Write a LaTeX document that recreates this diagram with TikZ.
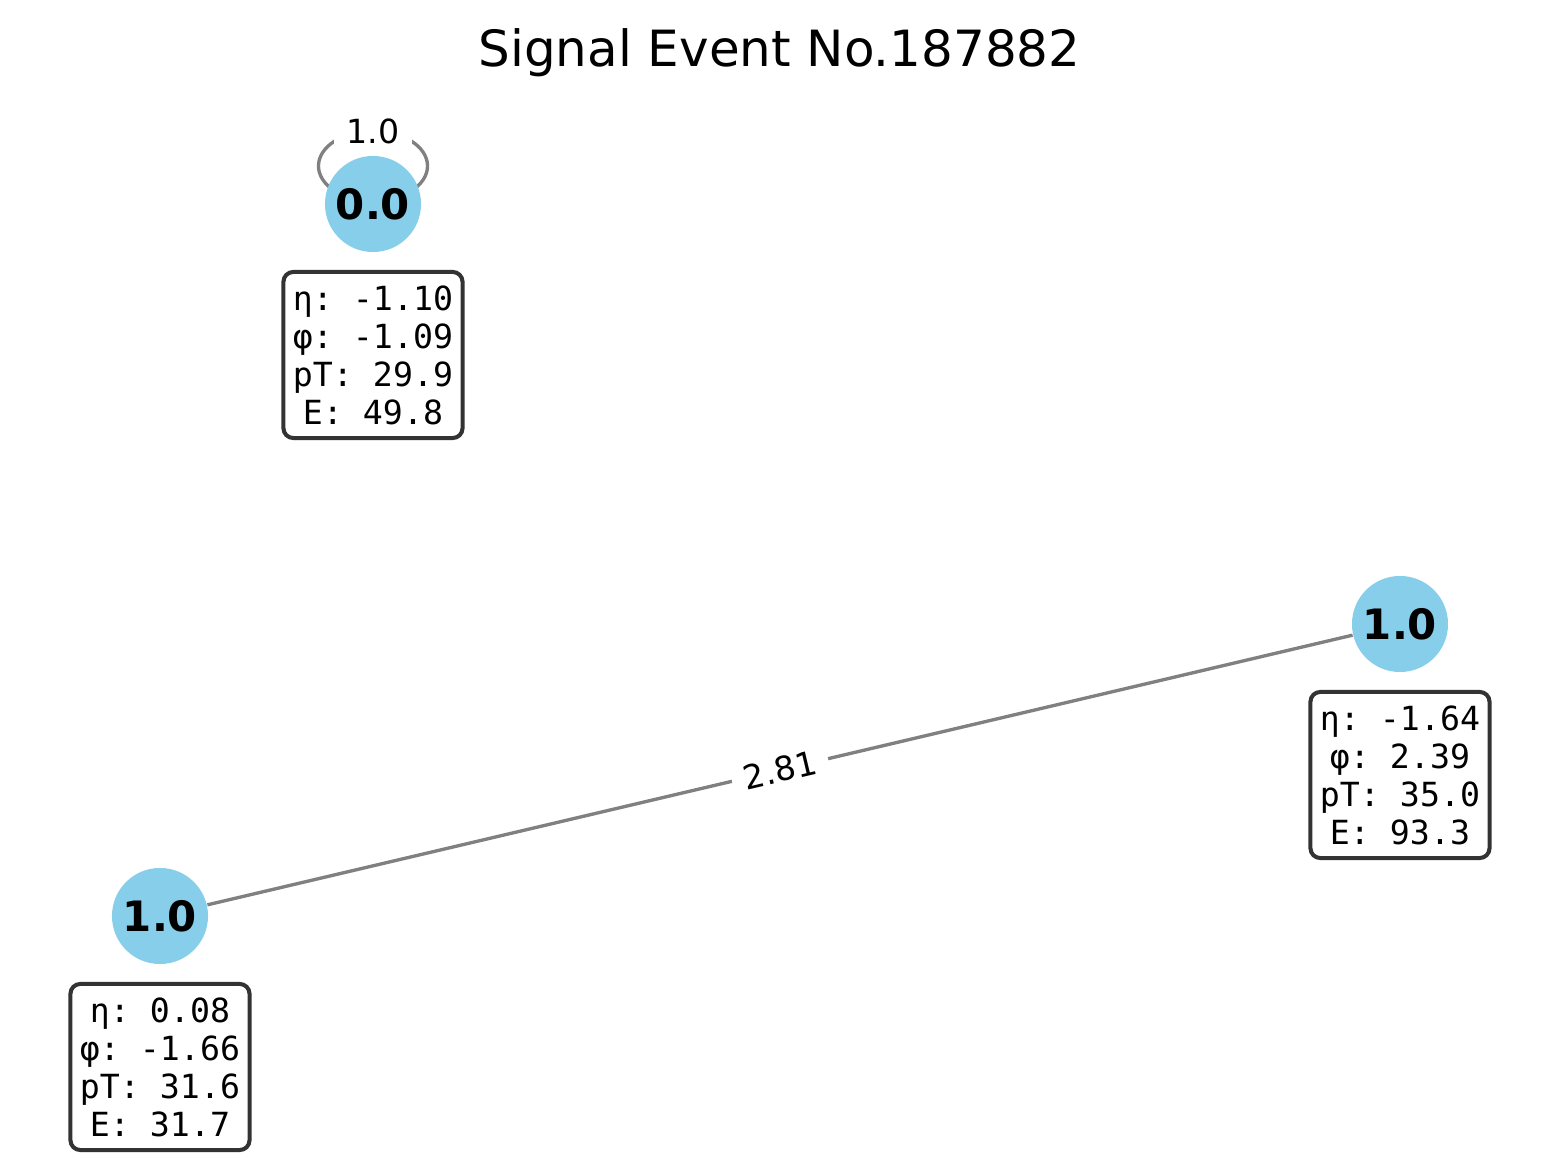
\documentclass[tikz,border=0pt]{standalone}
\usepackage{fontspec}
\usetikzlibrary{calc}
\setmainfont{DejaVu Sans}
\newfontfamily\monofont{DejaVu Sans Mono}
\definecolor{skyblue}{HTML}{87CEEB}
\definecolor{edgegray}{HTML}{808080}
\definecolor{boxedge}{HTML}{333333}
\begin{document}
\begin{tikzpicture}[x=0.01cm,y=-0.01cm,
  particle/.style={circle,fill=skyblue,minimum size=0.96cm,inner sep=0pt,
    font=\fontsize{11.9}{14}\selectfont\bfseries},
  infobox/.style={draw=boxedge,line width=1.15pt,fill=white,rounded corners=2.8pt,
    minimum width=1.79cm,minimum height=1.66cm,inner sep=0pt,align=center,
    font=\monofont\frenchspacing\fontsize{9.45}{10.8}\selectfont},
  edge/.style={draw=edgegray,line width=0.95pt},
  elabel/.style={fill=white,inner sep=3.5pt,font=\fontsize{9.45}{11}\selectfont}]
\useasboundingbox[fill=white] (0,0) rectangle (1559,1170);
\node[font=\fontsize{14.2}{17}\selectfont] (title) at (779.5,53) {Signal Event No.187882};
% coordinates of nodes
\coordinate (p0) at (373,204);
\coordinate (p1) at (1400,624);
\coordinate (p2) at (160,916);
% self loop
\draw[edge] ($(p0)+(0,-38)$) ellipse [x radius=0.545cm, y radius=0.35cm];
\node[elabel] (l0) at (373,131) {1.0};
% nodes
\node[particle] (n0) at (p0) {0.0};
\node[particle] (n1) at (p1) {1.0};
\node[particle] (n2) at (p2) {1.0};
% edge
\draw[edge] (n2) -- node[elabel,sloped] (l1) {2.81} (n1);
% info boxes
\node[infobox] (b0) at (373,355) {η: -1.10\\φ: -1.09\\pT: 29.9\\E: 49.8};
\node[infobox] (b1) at (1400,775) {η: -1.64\\φ: 2.39\\pT: 35.0\\E: 93.3};
\node[infobox] (b2) at (160,1067) {η: 0.08\\φ: -1.66\\pT: 31.6\\E: 31.7};
\end{tikzpicture}
\end{document}
